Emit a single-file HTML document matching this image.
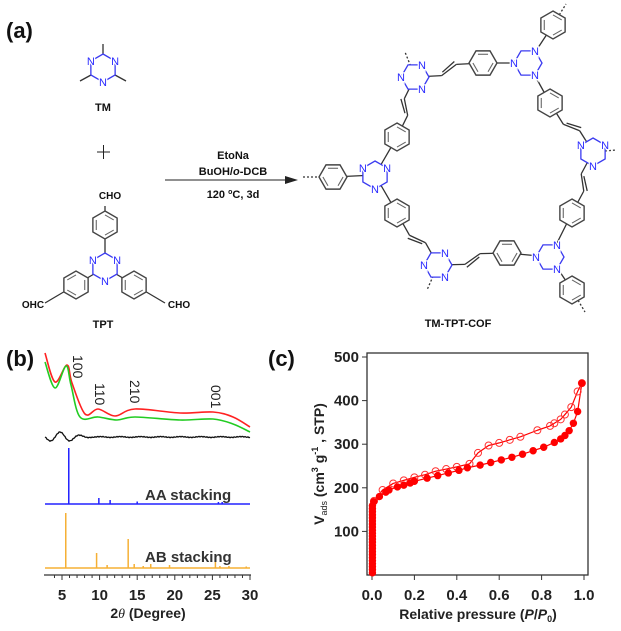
<!DOCTYPE html>
<html><head><meta charset="utf-8"><style>
html,body{margin:0;padding:0;background:#fff}
svg{display:block;font-family:"Liberation Sans",Arial,sans-serif}
</style></head><body>
<svg id="s" width="621" height="631" viewBox="0 0 621 631" xmlns="http://www.w3.org/2000/svg">
<g id="bonds" stroke="#333" stroke-width="1.3" fill="none"></g>
<g id="rings"></g>
<g id="plots"></g>
<g font-weight="bold" fill="#111">
<text x="6" y="38" font-size="22">(a)</text>
<text x="6" y="366" font-size="22">(b)</text>
<text x="268" y="366" font-size="22">(c)</text>
<text x="103" y="111" font-size="11" text-anchor="middle">TM</text>
<text x="103" y="328" font-size="11" text-anchor="middle">TPT</text>
<text x="458" y="327" font-size="11" text-anchor="middle">TM-TPT-COF</text>
<text x="233" y="159" font-size="11" text-anchor="middle">EtoNa</text>
<text x="233" y="175" font-size="11" text-anchor="middle">BuOH/<tspan font-style="italic">o</tspan>-DCB</text>
<text x="233" y="198" font-size="11" text-anchor="middle">120 <tspan font-size="7" dy="-4">o</tspan><tspan dy="4">C, 3d</tspan></text>
<text x="110" y="199" font-size="10" text-anchor="middle">CHO</text>
<text x="33" y="308" font-size="10" text-anchor="middle">OHC</text>
<text x="179" y="308" font-size="10" text-anchor="middle">CHO</text>
</g>
<line x1="97" y1="152" x2="110" y2="152" stroke="#222" stroke-width="1"/>
<line x1="103.5" y1="145" x2="103.5" y2="159" stroke="#222" stroke-width="1"/>
<line x1="165" y1="180" x2="288" y2="180" stroke="#222" stroke-width="1"/>
<polygon points="298,180 285,176 285,184" fill="#222"/>
</svg>
<script>
const NS="http://www.w3.org/2000/svg";
function el(p,t,a,txt){const e=document.createElementNS(NS,t);for(const k in a)e.setAttribute(k,a[k]);if(txt!=null)e.textContent=txt;document.getElementById(p).appendChild(e);return e;}
const B='bonds',R='rings';
function line(x1,y1,x2,y2,c,w,d){const a={x1,y1,x2,y2,stroke:c||'#333','stroke-width':w||1.3};if(d)a['stroke-dasharray']=d;el(B,'line',a);}
function hexPts(cx,cy,r,rot){let p=[];for(let i=0;i<6;i++){const a=(rot+60*i)*Math.PI/180;p.push([cx+r*Math.cos(a),cy+r*Math.sin(a)]);}return p;}
function phenyl(cx,cy,r,rot){const p=hexPts(cx,cy,r,rot);el(R,'polygon',{points:p.map(q=>q.join(',')).join(' '),fill:'#fff',stroke:'#444','stroke-width':1.4});
const q=hexPts(cx,cy,r*0.72,rot);for(let i=0;i<6;i+=2){el(R,'line',{x1:q[i][0],y1:q[i][1],x2:q[i+1][0],y2:q[i+1][1],stroke:'#666','stroke-width':1.1});}}
function triazine(cx,cy,r,rot,off){const p=hexPts(cx,cy,r,rot);el(R,'polygon',{points:p.map(q=>q.join(',')).join(' '),fill:'#fff',stroke:'#3b3bf0','stroke-width':1.3});
for(let i=off||0;i<6;i+=2){el(R,'text',{x:p[i][0],y:p[i][1]+4,'font-size':11,'text-anchor':'middle',fill:'#2a2aff','font-family':'Liberation Sans',stroke:'#fff','stroke-width':2.5,'paint-order':'stroke'},'N');}}
// TM
line(103,54,103,44);line(91,75,80,81);line(115,75,126,81);
triazine(103,68,14,-90,1);
// TPT
line(105,253,105,206);line(94,274,67,290);line(116,274,143,290);line(67,290,45,303);line(143,290,165,303);
phenyl(105,225,14,-90);phenyl(76,285,14,-30);phenyl(134,285,14,30);
triazine(105,267,14,-90,1);
// COF
const T={tl:[415,77],tr:[528,63],r:[593,152],br:[550,257],bl:[438,265],l:[375,175]};
const P={top:[483,63],pe:[553,25],ru:[550,103],rl:[572,213],bp:[572,290],bm:[507,253],ll:[397,213],lp:[333,177],lu:[397,137]};
function vin(a,b){const mx=(a[0]+b[0])/2,my=(a[1]+b[1])/2;const dx=b[0]-a[0],dy=b[1]-a[1];const L=Math.hypot(dx,dy);const nx=-dy/L*4,ny=dx/L*4;
line(a[0],a[1],mx-dx*0.12+nx,my-dy*0.12+ny);line(mx-dx*0.12+nx,my-dy*0.12+ny,mx+dx*0.12-nx,my+dy*0.12-ny);line(mx+dx*0.12-nx,my+dy*0.12-ny,b[0],b[1]);
line(mx-dx*0.1+nx*0.2,my-dy*0.1+ny*0.2,mx+dx*0.1-nx*1.8,my+dy*0.1-ny*1.8);}
function bd(a,b){line(a[0],a[1],b[0],b[1]);}
vin(T.tl,P.top);bd(P.top,T.tr);bd(T.tr,P.pe);bd(T.tr,P.ru);vin(P.ru,T.r);vin(T.r,P.rl);bd(P.rl,T.br);bd(T.br,P.bp);bd(T.br,P.bm);vin(P.bm,T.bl);vin(T.bl,P.ll);bd(P.ll,T.l);bd(T.l,P.lp);bd(T.l,P.lu);vin(P.lu,T.tl);
line(553,25,566,4,'#333',1.3,'2,2');line(593,152,616,150,'#333',1.3,'2,2');line(572,290,585,312,'#333',1.3,'2,2');line(438,265,427,290,'#333',1.3,'2,2');line(333,177,303,177,'#333',1.3,'2,2');line(415,77,405,52,'#333',1.3,'2,2');
for(const k in P){const p=P[k];let rot=-90;if(k=='top'||k=='bm'||k=='lp')rot=0;phenyl(p[0],p[1],14,rot);}
for(const k in T){const p=T[k];triazine(p[0],p[1],14,(k=='tl'||k=='tr'||k=='bl'||k=='br')?0:-90,1);}
// Panel b
const G='plots';
function path(pts,c,w,extra){const a={d:'M'+pts.map(p=>p.join(',')).join(' L'),fill:'none',stroke:c,'stroke-width':w||1.5,'stroke-linejoin':'round'};Object.assign(a,extra||{});el(G,'path',a);}
function smooth(pts,c,w){let d='M'+pts[0].join(',');for(let i=0;i<pts.length-1;i++){const p0=pts[i-1]||pts[i],p1=pts[i],p2=pts[i+1],p3=pts[i+2]||p2;
d+=` C${p1[0]+(p2[0]-p0[0])/6},${p1[1]+(p2[1]-p0[1])/6} ${p2[0]-(p3[0]-p1[0])/6},${p2[1]-(p3[1]-p1[1])/6} ${p2[0]},${p2[1]}`;}
el(G,'path',{d,fill:'none',stroke:c,'stroke-width':w||1.5});}
smooth([[45,353],[55,382],[67,365],[72,383],[85,414],[98,409],[115,416],[135,409],[180,413],[213,412],[233,417],[250,427]],'#f22',1.6);
smooth([[45,362],[55,388],[66,366],[71,385],[80,417],[98,417],[117,420],[135,417],[180,420],[213,419],[233,424],[250,432]],'#2c2',1.6);
let bk=[];for(let x=45;x<=250;x+=1){let amp=x<90?5*Math.exp(-(x-60)*(x-60)/400):0.4;bk.push([x,437+amp*Math.sin((x-45)/3.2)+0.4*Math.sin(x*2.3)]);}
path(bk,'#111',1.3);
const xv=v=>62+(v-5)*7.52;
function sticks(base,pk,c){let d=`M45,${base} L250,${base}`;for(const [v,h] of pk){const x=xv(v);d+=` M${x},${base} L${x},${base-h}`;}el(G,'path',{d,fill:'none',stroke:c,'stroke-width':1.5});}
sticks(504,[[5.9,56],[9.9,6],[11.4,4],[15,2.5],[25.8,2],[26.3,2]],'#22f');
sticks(568,[[5.5,55],[9.6,15],[11,3],[13.8,29],[14.6,4],[15.8,2],[16.8,4],[19.3,3],[25.4,7],[26,2],[27.2,2],[29.5,1.5]],'#f5b035');
el(G,'line',{x1:44,y1:575,x2:251,y2:575,stroke:'#333','stroke-width':1.3});
for(let v=4;v<=30;v++){const x=xv(v);el(G,'line',{x1:x,y1:575,x2:x,y2:v%5==0?580:578,stroke:'#333','stroke-width':1});}
for(let v=5;v<=30;v+=5)el(G,'text',{x:xv(v),y:600,'font-size':15,'font-weight':'bold','text-anchor':'middle',fill:'#222'},String(v));
const t=el(G,'text',{x:148,y:618,'font-size':14,'font-weight':'bold','text-anchor':'middle',fill:'#222'},'');t.innerHTML='2<tspan font-style="italic" font-weight="normal" font-family="Liberation Serif">θ</tspan> (Degree)';
el(G,'text',{x:145,y:500,'font-size':15,'font-weight':'bold',fill:'#333'},'AA stacking');
el(G,'text',{x:145,y:562,'font-size':15,'font-weight':'bold',fill:'#333'},'AB stacking');
for(const [x,y,s] of [[73,355,'100'],[95,383,'110'],[130,380,'210'],[211,385,'001']])el(G,'text',{x,y,'font-size':14,fill:'#222',transform:`rotate(90 ${x} ${y})`},s);
// Panel c
const cx=v=>372+v*212,cy=v=>575-v*0.436;
el(G,'rect',{x:367,y:353,width:221,height:222,fill:'none',stroke:'#333','stroke-width':1.3});
for(let v=100;v<=500;v+=100){el(G,'line',{x1:362,y1:cy(v),x2:367,y2:cy(v),stroke:'#333'});el(G,'text',{x:359,y:cy(v)+5,'font-size':15,'font-weight':'bold','text-anchor':'end',fill:'#222'},String(v));}
for(let v=0;v<=10;v+=2){const x=cx(v/10);el(G,'line',{x1:x,y1:575,x2:x,y2:580,stroke:'#333'});el(G,'text',{x,y:600,'font-size':15,'font-weight':'bold','text-anchor':'middle',fill:'#222'},(v/10).toFixed(1));}
const xt=el(G,'text',{x:478,y:619,'font-size':14,'font-weight':'bold','text-anchor':'middle',fill:'#222'},'');xt.innerHTML='Relative pressure (<tspan font-style="italic">P</tspan>/<tspan font-style="italic">P</tspan><tspan font-size="9" dy="3">0</tspan><tspan dy="-3">)</tspan>';
const yt=el(G,'text',{x:324,y:464,'font-size':14,'font-weight':'bold','text-anchor':'middle',fill:'#222',transform:'rotate(-90 324 464)'},'');yt.innerHTML='V<tspan font-size="9" dy="3" font-weight="normal">ads</tspan><tspan dy="-3"> (cm</tspan><tspan font-size="9" dy="-6">3</tspan><tspan dy="6"> g</tspan><tspan font-size="9" dy="-6">-1</tspan><tspan dy="6"> , STP)</tspan>';
let ads=[];for(let v=5;v<=165;v+=7)ads.push([0.002,v]);ads.push([0.008,168]);
ads=ads.concat([[0.035,180],[0.065,190],[0.08,195],[0.12,202],[0.15,206],[0.18,211],[0.2,215],[0.26,222],[0.31,228],[0.36,234],[0.41,240],[0.45,246],[0.51,252],[0.56,258],[0.61,264],[0.66,270],[0.71,277],[0.76,285],[0.81,293],[0.86,304],[0.89,312],[0.91,320],[0.93,331],[0.95,348],[0.97,375],[0.99,440]]);
const des=[[0.99,440],[0.97,421],[0.94,385],[0.91,368],[0.89,357],[0.86,348],[0.84,342],[0.78,332],[0.7,317],[0.65,310],[0.6,303],[0.55,297],[0.5,280],[0.46,255],[0.4,248],[0.35,243],[0.3,238],[0.25,230],[0.2,224],[0.15,217],[0.1,210],[0.05,195],[0.01,170]];
path(ads.map(p=>[cx(p[0]),cy(p[1])]),'#f00',1.2);path(des.map(p=>[cx(p[0]),cy(p[1])]),'#f00',1.2);
for(const p of des)el(G,'circle',{cx:cx(p[0]),cy:cy(p[1]),r:3.5,fill:'none',stroke:'#f33','stroke-width':1});
for(const p of ads)el(G,'circle',{cx:cx(p[0]),cy:cy(p[1]),r:3.7,fill:'#f00'});
</script>
</body></html>
